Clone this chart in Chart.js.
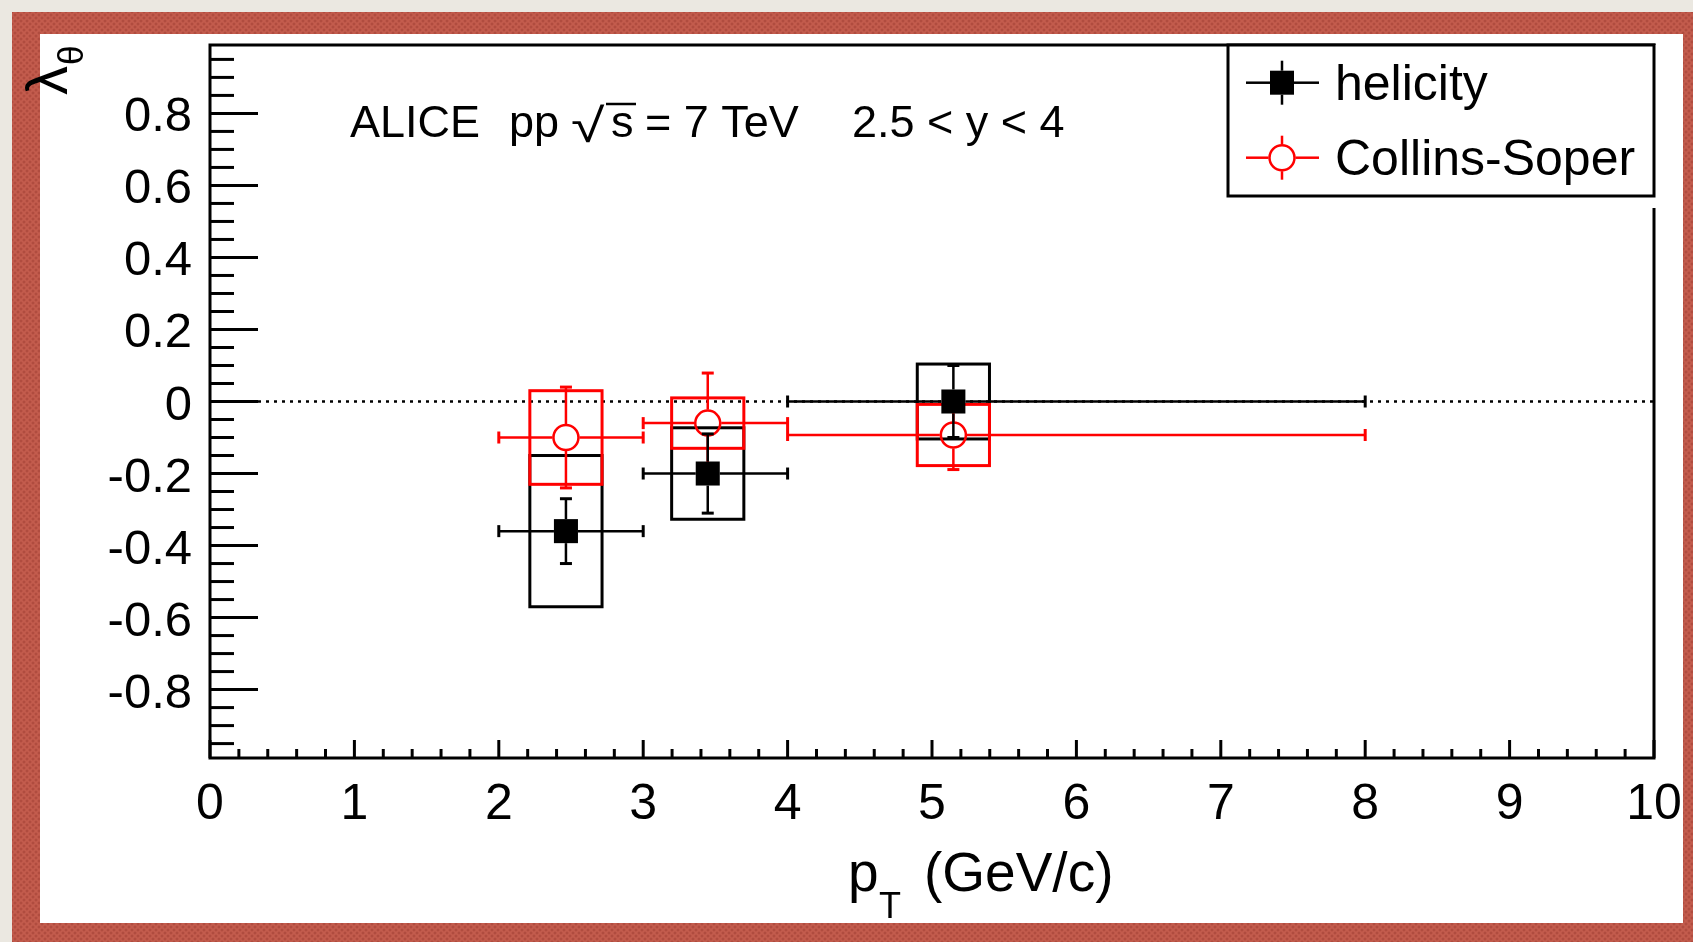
<!DOCTYPE html>
<html>
<head>
<meta charset="utf-8">
<title>lambda_theta vs pT</title>
<script src="https://cdn.jsdelivr.net/npm/chart.js@4.4.1/dist/chart.umd.min.js"></script>
<style>
  html, body { margin: 0; padding: 0; }
  body { width: 1693px; height: 942px; background: #ebe8e1; position: relative; overflow: hidden; }
  #frame {
    position: absolute; left: 12px; top: 12px; width: 1681px; height: 930px;
    background-color: #c35c4d;
    background-image:
      radial-gradient(circle, #b04c3f 1.1px, transparent 1.8px),
      radial-gradient(circle, #b04c3f 1.1px, transparent 1.8px);
    background-size: 6px 6px;
    background-position: 0 0, 3px 3px;
  }
  #panel { position: absolute; left: 40px; top: 34px; width: 1643px; height: 889px; background: #fff; }
  #wrap { position: absolute; left: 0; top: 0; width: 1693px; height: 942px; }
</style>
</head>
<body>
<div id="frame"></div>
<div id="panel"></div>
<div id="wrap"><canvas id="chart"></canvas></div>
<script>
// lambda_theta vs pT, helicity and Collins-Soper frames
// boxes = systematic uncertainties, bars = statistical uncertainties

const ptCenter = [2.465, 3.447, 5.148]
const ptLow = [2, 3, 4]
const ptHigh = [3, 4, 8]

const helicity = [-0.36, -0.2, 0.0]
const helicityStat = [0.09, 0.11, 0.1]
const helicitySys = [0.21, 0.127, 0.104]

const collinsSoper = [-0.1, -0.06, -0.093]
const collinsSoperStat = [0.14, 0.139, 0.096]
const collinsSoperSys = [0.13, 0.07, 0.085]

const sysHalfWidth = 0.25 // pT half-width of the systematic boxes

const xTickValues = [0, 1, 2, 3, 4, 5, 6, 7, 8, 9, 10]
const yTickValues = [-0.8, -0.6, -0.4, -0.2, 0, 0.2, 0.4, 0.6, 0.8]
const xRange = [0, 10]
const yRange = [-0.99, 0.99]

const FONT = '"Liberation Sans", Arial, Helvetica, sans-serif'

const line = (ctx, x1, y1, x2, y2) => {
  ctx.beginPath()
  ctx.moveTo(x1, y1)
  ctx.lineTo(x2, y2)
  ctx.stroke()
}

const toPoints = (ys) => ptCenter.map((x, i) => ({ x: x, y: ys[i] }))

// error bars stop at the marker edge, like ROOT does
const drawErrors = (ctx, x, y, ds) => {
  const gap = ds.markerGap
  ctx.strokeStyle = ds.borderColor
  ds.data.forEach((p, j) => {
    const px = x.getPixelForValue(p.x)
    const py = y.getPixelForValue(p.y)
    const lo = x.getPixelForValue(ptLow[j])
    const hi = x.getPixelForValue(ptHigh[j])
    const top = y.getPixelForValue(p.y + ds.stat[j])
    const bot = y.getPixelForValue(p.y - ds.stat[j])
    ctx.lineWidth = 2.5
    if (px - gap > lo) line(ctx, lo, py, px - gap, py)
    if (px + gap < hi) line(ctx, px + gap, py, hi, py)
    if (py - gap > top) line(ctx, px, top, px, py - gap)
    if (py + gap < bot) line(ctx, px, py + gap, px, bot)
    ctx.lineWidth = 3
    line(ctx, lo, py - 6, lo, py + 6)
    line(ctx, hi, py - 6, hi, py + 6)
    line(ctx, px - 6, top, px + 6, top)
    line(ctx, px - 6, bot, px + 6, bot)
  })
}

const rootStyle = {
  id: 'rootStyle',
  beforeDatasetsDraw(chart) {
    const { ctx, chartArea: a, scales: { x, y } } = chart
    ctx.save()
    // dotted line at zero
    ctx.strokeStyle = '#000'
    ctx.lineWidth = 2.5
    ctx.setLineDash([3, 5])
    const y0 = y.getPixelForValue(0)
    line(ctx, a.left, y0, a.right, y0)
    ctx.setLineDash([])
    // systematic boxes
    ctx.lineWidth = 3
    chart.data.datasets.forEach((ds) => {
      ctx.strokeStyle = ds.borderColor
      ds.data.forEach((p, j) => {
        const l = x.getPixelForValue(p.x - sysHalfWidth)
        const r = x.getPixelForValue(p.x + sysHalfWidth)
        const t = y.getPixelForValue(p.y + ds.sys[j])
        const b = y.getPixelForValue(p.y - ds.sys[j])
        ctx.strokeRect(l, t, r - l, b - t)
      })
    })
    ctx.restore()
  },
  beforeDatasetDraw(chart, args) {
    const { ctx, scales: { x, y } } = chart
    ctx.save()
    drawErrors(ctx, x, y, chart.data.datasets[args.index])
    ctx.restore()
  },
  afterDatasetsDraw(chart) {
    const { ctx, chartArea: a, scales: { x, y } } = chart
    ctx.save()
    ctx.strokeStyle = '#000'
    ctx.lineWidth = 3
    ctx.strokeRect(a.left, a.top, a.right - a.left, a.bottom - a.top)

    // ticks point into the frame
    for (let k = 0; k <= 50; k++) {
      const px = x.getPixelForValue(k * 0.2)
      line(ctx, px, a.bottom, px, a.bottom - (k % 5 === 0 ? 18 : 9))
    }
    for (let k = -19; k <= 19; k++) {
      const py = y.getPixelForValue(k * 0.05)
      line(ctx, a.left, py, a.left + (k % 4 === 0 ? 48 : 24), py)
    }

    ctx.fillStyle = '#000'
    ctx.textAlign = 'left'
    ctx.textBaseline = 'alphabetic'

    // x title: p_T (GeV/c)
    ctx.font = '55px ' + FONT
    ctx.fillText('p', 848, 891)
    ctx.fillText('(GeV/c)', 924, 891)
    ctx.font = '36px ' + FONT
    ctx.fillText('T', 879, 918)

    // y title: lambda_theta, rotated
    ctx.save()
    ctx.translate(67, 95)
    ctx.rotate(-Math.PI / 2)
    ctx.font = '58px ' + FONT
    ctx.fillText('λ', 0, 0)
    const lw = ctx.measureText('λ').width
    ctx.font = '35px ' + FONT
    ctx.fillText('θ', lw + 1, 16)
    ctx.restore()

    // experiment label
    ctx.font = '45px ' + FONT
    ctx.fillText('ALICE', 350, 137)
    ctx.fillText('pp', 509, 137)
    ctx.fillText('s', 611, 137)
    ctx.fillText('= 7 TeV', 645, 137)
    ctx.fillText('2.5 < y < 4', 852, 137)
    ctx.font = '58px ' + FONT
    ctx.save()
    ctx.translate(571, 142)
    ctx.scale(1.05, 0.82)
    ctx.fillText('√', 0, 0)
    ctx.restore()
    ctx.lineWidth = 2.5
    line(ctx, 606, 104, 636, 104)
    ctx.restore()
  },
  afterDraw(chart) {
    const { ctx } = chart
    const box = { l: 1228, t: 45, r: 1654, b: 196 }
    ctx.save()
    ctx.fillStyle = '#fff'
    ctx.fillRect(box.l, box.t, box.r - box.l + 3, box.b - box.t + 12)
    ctx.strokeStyle = '#000'
    ctx.lineWidth = 3
    ctx.strokeRect(box.l, box.t, box.r - box.l, box.b - box.t)

    chart.data.datasets.forEach((ds, i) => {
      const cy = 82.7 + i * 75
      const cx = 1282
      const gap = ds.markerGap
      ctx.strokeStyle = ds.borderColor
      ctx.lineWidth = 2.5
      line(ctx, 1246, cy, cx - gap, cy)
      line(ctx, cx + gap, cy, 1319, cy)
      line(ctx, cx, cy - 22, cx, cy - gap)
      line(ctx, cx, cy + gap, cx, cy + 22)
      if (ds.pointStyle === 'rect') {
        ctx.fillStyle = ds.backgroundColor
        ctx.fillRect(cx - 12, cy - 12, 24, 24)
      } else {
        ctx.beginPath()
        ctx.arc(cx, cy, ds.pointRadius, 0, Math.PI * 2)
        ctx.stroke()
      }
      ctx.fillStyle = '#000'
      ctx.font = '50px ' + FONT
      ctx.textBaseline = 'alphabetic'
      ctx.fillText(ds.label, 1335, cy + 17)
    })
    ctx.restore()
  },
}

const createChart = () => {
  const canvas = document.getElementById('chart')
  new Chart(canvas, {
    type: 'scatter',
    data: {
      datasets: [
        {
          label: 'helicity',
          data: toPoints(helicity),
          stat: helicityStat,
          sys: helicitySys,
          pointStyle: 'rect',
          pointRadius: 17,
          borderWidth: 0,
          backgroundColor: '#000',
          borderColor: '#000',
          markerGap: 12,
        },
        {
          label: 'Collins-Soper',
          data: toPoints(collinsSoper),
          stat: collinsSoperStat,
          sys: collinsSoperSys,
          pointStyle: 'circle',
          pointRadius: 12.5,
          borderWidth: 2.5,
          backgroundColor: 'rgba(0,0,0,0)',
          borderColor: '#ff0000',
          markerGap: 13.5,
        },
      ],
    },
    options: {
      responsive: true,
      maintainAspectRatio: false,
      animation: false,
      events: [],
      layout: { padding: { left: 0, top: 45, right: 39, bottom: 0 } },
      plugins: {
        legend: { display: false },
        tooltip: { enabled: false },
      },
      scales: {
        x: {
          type: 'linear',
          min: xRange[0],
          max: xRange[1],
          grid: { display: false, drawTicks: false },
          border: { display: false },
          afterBuildTicks: (scale) => {
            scale.ticks = xTickValues.map((v) => ({ value: v }))
          },
          afterFit: (scale) => {
            scale.height = 184
            scale.paddingLeft = 0
            scale.paddingRight = 0
          },
          ticks: {
            autoSkip: false,
            maxRotation: 0,
            padding: 17,
            color: '#000',
            font: { family: FONT, size: 50 },
            callback: (v) => String(v),
          },
        },
        y: {
          type: 'linear',
          min: yRange[0],
          max: yRange[1],
          grid: { display: false, drawTicks: false },
          border: { display: false },
          afterBuildTicks: (scale) => {
            scale.ticks = yTickValues.map((v) => ({ value: v }))
          },
          afterFit: (scale) => {
            scale.width = 210
            scale.paddingTop = 0
            scale.paddingBottom = 0
          },
          ticks: {
            autoSkip: false,
            padding: 18,
            color: '#000',
            // a blank first line with a short line height nudges the label a few px below its tick
            font: { family: FONT, size: 49, lineHeight: '9px' },
            callback: (v) => ['', v === 0 ? '0' : v.toFixed(1)],
          },
        },
      },
    },
    plugins: [rootStyle],
  })
}

createChart()
</script>
</body>
</html>
